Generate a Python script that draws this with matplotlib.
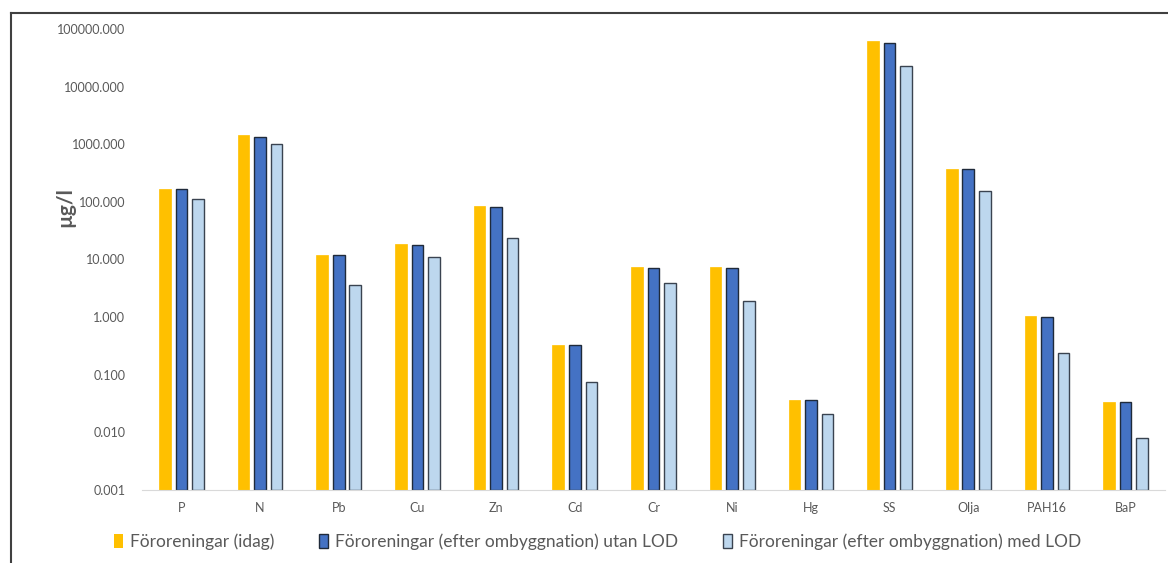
import numpy as np
import matplotlib.pyplot as plt
from matplotlib.patches import Patch
from matplotlib.lines import Line2D

plt.rcParams['font.family'] = ['Lato', 'DejaVu Sans']

# data (ug/l)
ämnen = ['P', 'N', 'Pb', 'Cu', 'Zn', 'Cd', 'Cr', 'Ni', 'Hg', 'SS', 'Olja', 'PAH16', 'BaP']
idag = [168, 1450, 12.0, 18.7, 85, 0.33, 7.4, 7.4, 0.037, 62000, 375, 1.05, 0.034]
utan_lod = [168, 1340, 12.0, 18.0, 83, 0.33, 7.2, 7.2, 0.036, 58000, 370, 1.0, 0.033]
med_lod = [113, 1000, 3.6, 11.1, 23.7, 0.075, 3.9, 1.9, 0.021, 23000, 155, 0.24, 0.008]

labels = ['Föroreningar (idag)',
          'Föroreningar (efter ombyggnation) utan LOD',
          'Föroreningar (efter ombyggnation) med LOD']
colors = ['#FFC000', '#4472C4', '#BDD7EE']
edges = ['#FFC000', '#1F2A3A', '#3A4350']

fig = plt.figure(figsize=(11.68, 5.63), dpi=100)
ax = fig.add_axes([142 / 1168, 1 - 490 / 563, 1023 / 1168, (490 - 29) / 563])

x = np.arange(len(ämnen))
w = 0.147
base = 0.001
for i, serie in enumerate([idag, utan_lod, med_lod]):
    v = np.array(serie)
    ax.bar(x + (i - 1) * 0.21, v - base, bottom=base, width=w,
           color=colors[i], edgecolor=edges[i], linewidth=1.0 if i else 0.5,
           zorder=2)

ax.set_yscale('log')
ax.set_ylim(0.001, 100000)
ax.set_xlim(-0.5, len(ämnen) - 0.5)
ax.set_yticks([10.0 ** k for k in range(-3, 6)])
ax.set_yticklabels(['%.3f' % (10.0 ** k) for k in range(-3, 6)])
ax.minorticks_off()
ax.set_xticks(x)
ax.set_xticklabels(ämnen)
ax.tick_params(axis='both', length=0, labelsize=9, labelcolor='#595959')
ax.tick_params(axis='x', pad=9)
ax.tick_params(axis='y', pad=12)
for s in ['top', 'right', 'left']:
    ax.spines[s].set_visible(False)
ax.spines['bottom'].set_color('#D9D9D9')

fig.text(65 / 1168, 1 - 207 / 563, 'µg/l', rotation=90, fontsize=15,
         fontweight='bold', color='#595959', ha='center', va='center')

handles = [Patch(facecolor=colors[i], edgecolor=edges[i],
                 linewidth=1.0 if i else 0) for i in range(3)]
fig.legend(handles, labels, loc='center left', bbox_to_anchor=(114 / 1168, 1 - 542 / 563),
           ncol=3, frameon=False, fontsize=12.5, handlelength=0.5, handleheight=0.9,
           handletextpad=0.4, columnspacing=2.6, labelcolor='#595959',
           borderaxespad=0, borderpad=0)

# outer frame (left and top)
fig.add_artist(Line2D([11 / 1168, 11 / 1168], [0, 1 - 13 / 563],
                      transform=fig.transFigure, color='#404040', lw=1.5))
fig.add_artist(Line2D([11 / 1168, 1], [1 - 13 / 563, 1 - 13 / 563],
                      transform=fig.transFigure, color='#404040', lw=1.5))

fig.savefig('out.png', dpi=100)
